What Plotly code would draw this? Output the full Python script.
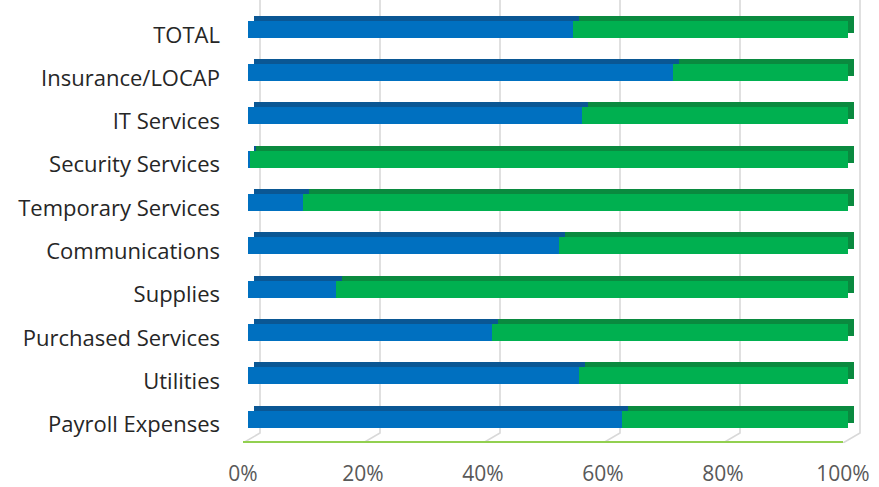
import plotly.graph_objects as go

categories = ["Payroll Expenses", "Utilities", "Purchased Services", "Supplies",
              "Communications", "Temporary Services", "Security Services",
              "IT Services", "Insurance/LOCAP", "TOTAL"]
blue_share = [0.624, 0.551, 0.406, 0.146, 0.518, 0.092, 0.003, 0.556, 0.708, 0.542]
green_share = [round(1 - b, 3) for b in blue_share]
tick_vals = [0, 0.2, 0.4, 0.6, 0.8, 1.0]
tick_text = ["0%", "20%", "40%", "60%", "80%", "100%"]

W, H = 879, 487
ML, MR, MT, MB = 243, 9, 0, 44
SCALE = 600               # px for 0..100%
PW = W - ML - MR          # plot width (extra room for the 3D depth)
XMAX = PW / SCALE
PH = H - MT - MB          # 443
UNIT = 43.3               # px per category
FRONT0 = 419              # pixel y of first bar centre (front face)
BAR_W = 17 / UNIT
LABEL_SHIFT = 5.5

idx = list(range(len(categories)))

def yrange(shift_px):
    # shift_px > 0 moves drawn content down
    lo = -(MT + PH - FRONT0) / UNIT
    hi = lo + PH / UNIT
    d = shift_px / UNIT
    return [lo + d, hi + d]

def xrange(shift_px):
    d = shift_px / SCALE
    return [-d, XMAX - d]

BLUE, BLUE_D = "#0070C0", "#0A5794"
GREEN, GREEN_D = "#00B050", "#0A8A3F"
GRID = "#D9D9D9"
FLOOR = "#92D050"

fig = go.Figure()

# back-wall gridlines with floor diagonals (base subplot)
gx, gy = [], []
y_floor, y_top = yrange(LABEL_SHIFT)
y_back = y_floor + 10 / UNIT
for v in tick_vals:
    gx += [v, v + 17 / SCALE, v + 17 / SCALE, None]
    gy += [y_floor, y_back, y_top, None]
fig.add_trace(go.Scatter(x=gx, y=gy, mode="lines", line=dict(color=GRID, width=1.6),
                         hoverinfo="skip", showlegend=False,
                         xaxis="x", yaxis="y"))
# floor front edge
fig.add_trace(go.Scatter(x=[tick_vals[0], tick_vals[-1]], y=[y_floor + 1 / UNIT] * 2,
                         mode="lines", line=dict(color=FLOOR, width=2),
                         hoverinfo="skip", showlegend=False, xaxis="x", yaxis="y"))

# depth (top + side faces)
fig.add_trace(go.Bar(y=idx, x=blue_share, orientation="h", width=BAR_W,
                     marker=dict(color=BLUE_D, line=dict(width=0)),
                     xaxis="x2", yaxis="y2", showlegend=False, hoverinfo="skip"))
fig.add_trace(go.Bar(y=idx, x=green_share, orientation="h", width=BAR_W,
                     marker=dict(color=GREEN_D, line=dict(width=0)),
                     xaxis="x2", yaxis="y2", showlegend=False, hoverinfo="skip"))
# front faces
fig.add_trace(go.Bar(y=idx, x=blue_share, orientation="h", width=BAR_W,
                     marker=dict(color=BLUE, line=dict(width=0)),
                     xaxis="x3", yaxis="y3", showlegend=False))
fig.add_trace(go.Bar(y=idx, x=green_share, orientation="h", width=BAR_W,
                     marker=dict(color=GREEN, line=dict(width=0)),
                     xaxis="x3", yaxis="y3", showlegend=False))

hidden = dict(visible=False, fixedrange=True, automargin=False)
fig.update_layout(
    width=W, height=H,
    margin=dict(l=ML, r=MR, t=MT, b=MB, pad=0, autoexpand=False),
    paper_bgcolor="white", plot_bgcolor="rgba(0,0,0,0)",
    barmode="stack", bargap=0,
    font=dict(family="Open Sans", color="#404040"),
    xaxis=dict(range=xrange(0), tickvals=tick_vals, ticktext=tick_text,
               showgrid=False, zeroline=False, showline=False, automargin=False,
               ticks="", fixedrange=True,
               tickfont=dict(size=21, color="#595959"), ticklabelstandoff=16),
    yaxis=dict(range=yrange(LABEL_SHIFT), tickvals=idx, ticktext=categories,
               showgrid=False, zeroline=False, showline=False, ticks="", automargin=False,
               fixedrange=True,
               tickfont=dict(size=22, color="#262626"), ticklabelstandoff=22),
    xaxis2=dict(overlaying="x", range=xrange(11), **hidden),
    yaxis2=dict(overlaying="y", range=yrange(-5), **hidden),
    xaxis3=dict(overlaying="x", range=xrange(5), **hidden),
    yaxis3=dict(overlaying="y", range=yrange(0), **hidden),
)

fig.write_html("out.html", config={"displayModeBar": False},
               post_script="document.body.style.margin='0';document.body.style.overflow='hidden';")
